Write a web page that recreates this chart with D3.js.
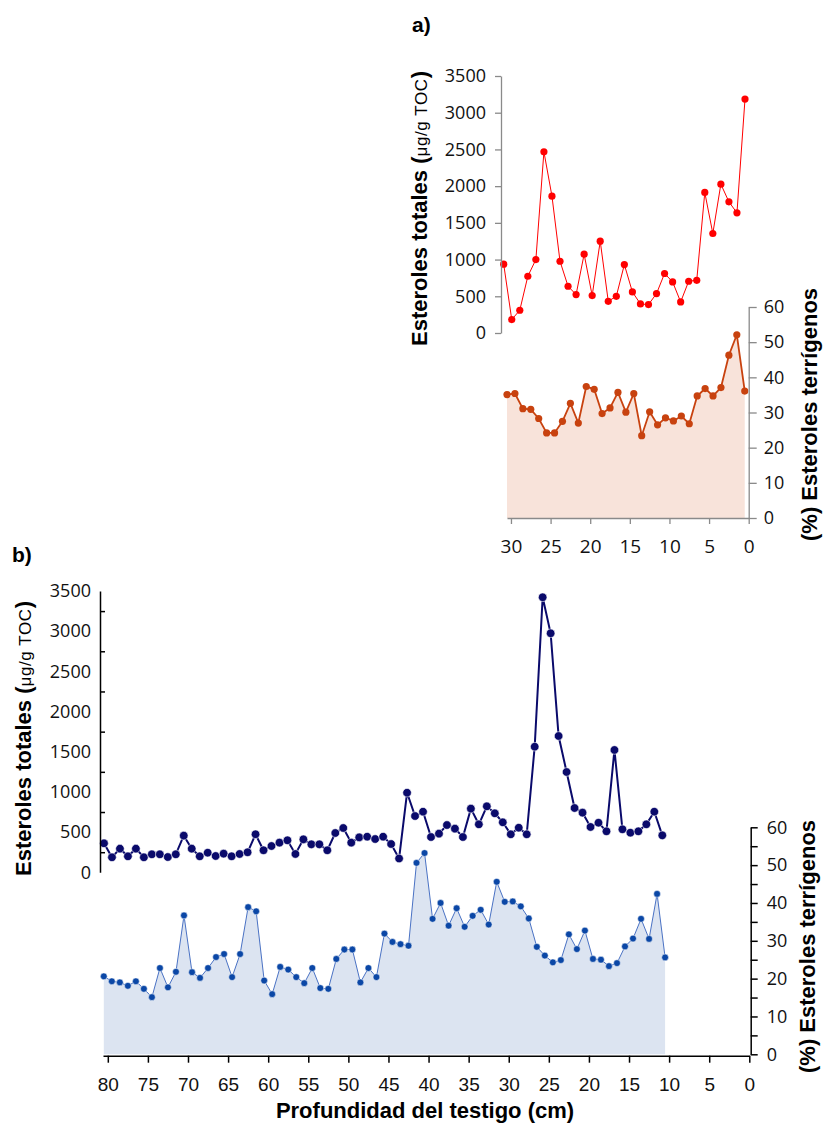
<!DOCTYPE html>
<html>
<head>
<meta charset="utf-8">
<script src="https://cdn.jsdelivr.net/npm/d3@7"></script>
<style>
  body { margin: 0; background: #fff; }
  svg { display: block; }
  .tick text { font-family: "Open Sans", sans-serif; fill: #111; }
  .title { font-family: "Liberation Sans", Arial, sans-serif; font-weight: bold; fill: #000; }
</style>
</head>
<body>
<script>

// Panel a) -- depth (cm) of each sample, 31 samples
const depthA = [30.5, 29.5, 28.5, 27.5, 26.5, 25.5, 24.5, 23.5, 22.5, 21.5, 20.5,
	19.5, 18.5, 17.5, 16.5, 15.5, 14.5, 13.5, 12.5, 11.5, 10.5,
	9.5, 8.5, 7.5, 6.5, 5.5, 4.5, 3.5, 2.5, 1.5, 0.5];

// Panel a) total sterols (ug/g TOC)
const totalA = [937, 183, 310, 773, 1000, 2468, 1864, 977, 637, 523, 1073,
	510, 1250, 432, 500, 932, 559, 396, 387, 537, 810,
	696, 423, 705, 718, 1914, 1355, 2027, 1786, 1636, 3186];

// Panel a) terrigenous sterols (%)
const terrA = [35.1, 35.4, 31.1, 30.9, 28.3, 24.2, 24.2, 27.5, 32.6, 27.0, 37.4,
	36.6, 29.7, 31.3, 35.7, 30.1, 35.4, 23.4, 30.2, 26.5, 28.5,
	27.6, 29.0, 26.8, 34.7, 36.8, 34.7, 37.1, 46.3, 52.1, 36.1];

// Panel b) -- depth (cm) of each sample, 71 samples
const depthB = [80.5, 79.5, 78.5, 77.5, 76.5, 75.5, 74.5, 73.5, 72.5, 71.5,
	70.5, 69.5, 68.5, 67.5, 66.5, 65.5, 64.5, 63.5, 62.5, 61.5,
	60.5, 59.5, 58.5, 57.5, 56.5, 55.5, 54.5, 53.5, 52.5, 51.5,
	50.5, 49.5, 48.5, 47.5, 46.5, 45.5, 44.5, 43.5, 42.5, 41.5,
	40.5, 39.5, 38.5, 37.5, 36.5, 35.5, 34.5, 33.5, 32.5, 31.5,
	30.5, 29.5, 28.5, 27.5, 26.5, 25.5, 24.5, 23.5, 22.5, 21.5,
	20.5, 19.5, 18.5, 17.5, 16.5, 15.5, 14.5, 13.5, 12.5, 11.5, 10.5];

// Panel b) total sterols (ug/g TOC)
const totalB = [361, 187, 294, 199, 294, 187, 224, 224, 190, 224,
	456, 294, 199, 244, 203, 232, 199, 228, 249, 473,
	274, 327, 369, 398, 228, 410, 348, 348, 274, 489,
	551, 369, 435, 443, 414, 443, 352, 172, 990, 700,
	754, 439, 481, 588, 543, 439, 792, 597, 821, 734,
	622, 473, 555, 473, 1563, 3422, 2974, 1696, 1248, 800,
	742, 564, 617, 510, 1522, 535, 493, 510, 597, 754, 460];

// Panel b) terrigenous sterols (%)
const terrB = [20.6, 19.3, 19.0, 18.1, 19.3, 17.3, 15.1, 22.8, 17.7, 21.8,
	36.7, 21.7, 20.2, 22.8, 25.7, 26.5, 20.4, 26.5, 38.9, 37.8,
	19.5, 15.9, 23.1, 22.4, 20.4, 18.8, 22.8, 17.5, 17.3, 25.2,
	27.7, 27.7, 19.0, 22.8, 20.4, 31.9, 29.7, 29.1, 28.7, 50.6,
	53.2, 35.8, 40.0, 34.0, 38.6, 33.7, 36.6, 38.2, 34.3, 45.6,
	40.3, 40.4, 39.1, 35.9, 28.4, 26.1, 24.3, 24.9, 31.7, 27.8,
	32.7, 25.2, 25.0, 23.3, 24.1, 28.5, 30.6, 35.8, 30.5, 42.4, 25.6];

// Tick labels
const depthTicksA = [30, 25, 20, 15, 10, 5, 0];
const depthTicksB = [80, 75, 70, 65, 60, 55, 50, 45, 40, 35, 30, 25, 20, 15, 10, 5, 0];
const totalTicks = [0, 500, 1000, 1500, 2000, 2500, 3000, 3500];
const totalMinorTicks = [250, 750, 1250, 1750, 2250, 2750, 3250];
const pctTicks = [0, 10, 20, 30, 40, 50, 60];
const pctTicksB = [0, 5, 10, 15, 20, 25, 30, 35, 40, 45, 50, 55, 60];


const width = 825;
const height = 1127;
const fmt = d3.format('d');

var svg = d3.select('body')
	.append('svg')
	.attr('width', width)
	.attr('height', height);


// Rotated y title with the smaller unit part
function unitTitle(x, y) {
	var t = svg.append('text').attr('class', 'title')
		.attr('transform', `translate(${x},${y}) rotate(-90)`)
		.style('font-size', '22px');
	t.append('tspan').text('Esteroles totales (');
	t.append('tspan')
		.style('font-size', '17px')
		.style('font-weight', 'normal')
		.style('letter-spacing', '0.6px')
		.text('μg/g TOC');
	t.append('tspan').text(')');
}


/*****************************************************************************
 * Panel a)
 *****************************************************************************/

var xA = d3.scaleLinear().domain([30.5, 0]).range([507, 748.7]);
var xATop = d3.scaleLinear().domain([30.5, 0.5]).range([503.7, 745]);
var yATop = d3.scaleLinear().domain([0, 3500]).range([333, 76]);
var yAPct = d3.scaleLinear().domain([0, 60]).range([518, 307]);

var greyA = '#8a8a8a';

// percentage area + line
var areaA = d3.area()
	.x((d, i) => xA(depthA[i]))
	.y0(yAPct(0))
	.y1(d => yAPct(d));

svg.append('path').datum(terrA)
	.attr('d', areaA)
	.attr('fill', '#f8e3da');

svg.append('path').datum(terrA)
	.attr('d', d3.line().x((d, i) => xA(depthA[i])).y(d => yAPct(d)))
	.attr('fill', 'none')
	.attr('stroke', '#c8420f')
	.attr('stroke-width', 1.8);

svg.append('g').selectAll('circle').data(terrA).enter()
	.append('circle')
	.attr('cx', (d, i) => xA(depthA[i]))
	.attr('cy', d => yAPct(d))
	.attr('r', 3.6)
	.attr('fill', '#c8420f');

// total sterols line
svg.append('path').datum(totalA)
	.attr('d', d3.line().x((d, i) => xATop(depthA[i])).y(d => yATop(d)))
	.attr('fill', 'none')
	.attr('stroke', '#ff0000')
	.attr('stroke-width', 1);

svg.append('g').selectAll('circle').data(totalA).enter()
	.append('circle')
	.attr('cx', (d, i) => xATop(depthA[i]))
	.attr('cy', d => yATop(d))
	.attr('r', 3.6)
	.attr('fill', '#ff0000');

// axes
var axisALeft = svg.append('g')
	.attr('transform', `translate(${xATop.range()[0] - 2.7},0)`)
	.call(d3.axisLeft(yATop).tickValues(totalTicks).tickFormat(fmt)
		.tickSize(6).tickSizeOuter(0).tickPadding(9));
axisALeft.selectAll('text').style('font-size', '18px');

var axisARight = svg.append('g')
	.attr('transform', `translate(${xA(0)},0)`)
	.call(d3.axisRight(yAPct).tickValues(pctTicks).tickSize(8).tickSizeOuter(0).tickPadding(7));
axisARight.selectAll('text').style('font-size', '18px');

var axisABottom = svg.append('g')
	.attr('transform', `translate(0,${yAPct(0)})`)
	.call(d3.axisBottom(xA).tickValues(depthTicksA).tickSize(6).tickSizeOuter(0).tickPadding(16));
axisABottom.selectAll('text').style('font-size', '19px');

[axisALeft, axisARight, axisABottom].forEach(function(g) {
	g.selectAll('path, line').attr('stroke', greyA).attr('stroke-width', 1.3);
});

// titles
svg.append('text').attr('class', 'title')
	.attr('x', 412).attr('y', 32)
	.style('font-size', '21px')
	.text('a)');

unitTitle(427, 346);

svg.append('text').attr('class', 'title')
	.attr('transform', 'translate(817,541) rotate(-90)')
	.style('font-size', '22px')
	.text('(%) Esteroles terrígenos');


/*****************************************************************************
 * Panel b)
 *****************************************************************************/

var xB = d3.scaleLinear().domain([80.6, 0]).range([103, 749.3]);
var xBTop = d3.scaleLinear().domain([80.5, 10.5]).range([104, 662.3]);
var yBTop = d3.scaleLinear().domain([0, 3500]).range([872.3, 591]);
var yBPct = d3.scaleLinear().domain([0, 60]).range([1054.3, 827.3]);

// percentage area + line
var areaB = d3.area()
	.x((d, i) => xB(depthB[i]))
	.y0(yBPct(0))
	.y1(d => yBPct(d));

svg.append('path').datum(terrB)
	.attr('d', areaB)
	.attr('fill', '#dce4f1');

svg.append('path').datum(terrB)
	.attr('d', d3.line().x((d, i) => xB(depthB[i])).y(d => yBPct(d)))
	.attr('fill', 'none')
	.attr('stroke', '#4a72c4')
	.attr('stroke-width', 1);

svg.append('g').selectAll('circle').data(terrB).enter()
	.append('circle')
	.attr('cx', (d, i) => xB(depthB[i]))
	.attr('cy', d => yBPct(d))
	.attr('r', 3.4)
	.attr('fill', '#0b47a6')
	.attr('stroke', '#fff')
	.attr('stroke-width', 0.5);

// total sterols line
svg.append('path').datum(totalB)
	.attr('d', d3.line().x((d, i) => xBTop(depthB[i])).y(d => yBTop(d)))
	.attr('fill', 'none')
	.attr('stroke', '#0a0a6b')
	.attr('stroke-width', 2);

svg.append('g').selectAll('circle').data(totalB).enter()
	.append('circle')
	.attr('cx', (d, i) => xBTop(depthB[i]))
	.attr('cy', d => yBTop(d))
	.attr('r', 4.3)
	.attr('fill', '#0a0a6b')
	.attr('stroke', '#fff')
	.attr('stroke-width', 0.6);

// axes
var axisBLeft = svg.append('g')
	.attr('transform', 'translate(100,0)')
	.call(d3.axisLeft(yBTop).tickValues(totalTicks).tickFormat(fmt)
		.tickSize(0).tickSizeOuter(0).tickPadding(9));
axisBLeft.selectAll('text').style('font-size', '18px');

// minor ticks pointing inward
svg.append('g')
	.attr('transform', 'translate(100,0)')
	.call(d3.axisRight(yBTop).tickValues(totalMinorTicks).tickSize(5).tickFormat(''))
	.select('.domain').remove();

var axisBRight = svg.append('g')
	.attr('transform', `translate(${xB(0) + 1.4},0)`)
	.call(d3.axisRight(yBPct).tickValues(pctTicksB).tickSize(7).tickSizeOuter(0).tickPadding(9)
		.tickFormat(d => d % 10 === 0 ? d : ''));
axisBRight.selectAll('text').style('font-size', '18px');

var axisBBottom = svg.append('g')
	.attr('transform', `translate(0,${yBPct(0) + 1.4})`)
	.call(d3.axisBottom(xB).tickValues(depthTicksB).tickSize(7).tickSizeOuter(0).tickPadding(15));
axisBBottom.selectAll('text')
	.style('font-size', '19px')
	.style('font-family', '"Liberation Sans Narrow", "Liberation Sans", sans-serif');

svg.selectAll('.domain, .tick line').filter(function() {
	return this.getAttribute('stroke') === 'currentColor';
}).attr('stroke', '#000').attr('stroke-width', 1.5);

// titles
svg.append('text').attr('class', 'title')
	.attr('x', 12).attr('y', 562)
	.style('font-size', '21px')
	.text('b)');

unitTitle(31, 876);

svg.append('text').attr('class', 'title')
	.attr('transform', 'translate(815,1073) rotate(-90)')
	.style('font-size', '22px')
	.text('(%) Esteroles terrígenos');

svg.append('text').attr('class', 'title')
	.attr('x', 425).attr('y', 1118)
	.attr('text-anchor', 'middle')
	.style('font-size', '22px')
	.text('Profundidad del testigo (cm)');

</script>
</body>
</html>
